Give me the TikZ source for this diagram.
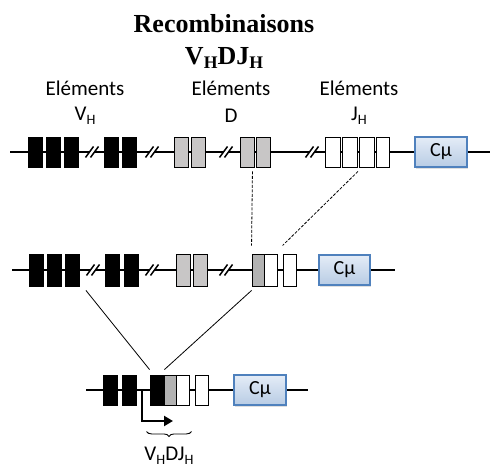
\documentclass[tikz,border=0pt]{standalone}
\usepackage{fontspec}
\setmainfont{Liberation Serif}
\newfontfamily\calib{Carlito}
\usetikzlibrary{calc,arrows.meta,shadows,decorations.pathreplacing}

\definecolor{dseg}{RGB}{200,198,198}
\definecolor{djseg}{RGB}{178,178,178}
\definecolor{cmuline}{RGB}{79,129,189}
\definecolor{cmutop}{RGB}{228,236,247}
\definecolor{cmubot}{RGB}{184,204,228}

\newcommand{\lowsub}[1]{\raisebox{-0.35ex}{\scalebox{0.68}{#1}}}

\tikzset{
  seg/.style={draw=black, line width=0.9bp, inner sep=0pt, minimum width=14bp, minimum height=30bp},
  vseg/.style={seg, fill=black},
  dseg/.style={seg, fill=dseg},
  djseg/.style={seg, fill=djseg, minimum width=12bp},
  jseg/.style={seg, fill=white, minimum width=15bp},
  cmu/.style={draw=cmuline, line width=1.2bp, top color=cmutop, bottom color=cmubot,
    minimum width=52bp, minimum height=30bp, inner sep=0pt,
    drop shadow={opacity=0.25, shadow xshift=1bp, shadow yshift=-2bp},
    font=\calib\fontsize{20bp}{24bp}\selectfont},
  dna/.style={line width=1.7bp},
  lab/.style={font=\calib\fontsize{21bp}{25bp}\selectfont, inner sep=0pt},
  dashlink/.style={dashed, line width=0.8bp, dash pattern=on 3bp off 1.5bp},
  link/.style={line width=0.8bp},
  linecut/.pic={
    \fill[white] (-6.5,5) -- (1.5,-5) -- (6.5,-5) -- (-1.5,5) -- cycle;
    \draw[line width=1.5bp] (-6.5,5.5) -- (1.5,-5.5) (-1.5,5.5) -- (6.5,-5.5);
  }
}

\begin{document}
\begin{tikzpicture}[x=1bp, y=-1bp]
\useasboundingbox (0,0) rectangle (490,467);

% titre
\node[font=\bfseries\fontsize{26bp}{30bp}\selectfont, inner sep=0pt] (titre) at (224,24) {Recombinaisons};
\node[font=\bfseries\fontsize{26bp}{30bp}\selectfont, inner sep=0pt] (titrevdj) at (224,58) {V\lowsub{H}DJ\lowsub{H}};

\node[lab] (elv) at (85,88) {Eléments};
\node[lab] (elvh) at (85,116) {V\lowsub{H}};
\node[lab] (eld) at (231,88) {Eléments};
\node[lab] (eldd) at (231,116) {D};
\node[lab] (elj) at (359,88) {Eléments};
\node[lab] (eljh) at (359,116) {J\lowsub{H}};

% ligne germinale
\coordinate (a0) at (10,152);
\coordinate (a1) at (490,152);
\draw[dna] (a0) -- (a1);
\pic at (92,152) {linecut};
\pic at (152,152) {linecut};
\pic at (226,152) {linecut};
\pic at (312,152) {linecut};
\node[vseg] (va1) at (35,152) {};
\node[vseg] (va2) at (53,152) {};
\node[vseg] (va3) at (71,152) {};
\node[vseg] (va4) at (111,152) {};
\node[vseg] (va5) at (129,152) {};
\node[dseg] (da1) at (181.5,152) {};
\node[dseg] (da2) at (198.5,152) {};
\node[dseg] (da3) at (247,152) {};
\node[dseg] (da4) at (263.5,152) {};
\node[jseg] (ja1) at (332.5,152) {};
\node[jseg] (ja2) at (350,152) {};
\node[jseg] (ja3) at (367,152) {};
\node[jseg, minimum width=13bp] (ja4) at (383,152) {};
\node[cmu] (cma) at (441,152) {Cµ};

% DJ
\coordinate (b0) at (12,270);
\coordinate (b1) at (395,270);
\draw[dna] (b0) -- (b1);
\pic at (93,270) {linecut};
\pic at (152,270) {linecut};
\pic at (226,270) {linecut};
\node[vseg, minimum height=32bp] (vb1) at (36.5,270) {};
\node[vseg, minimum height=32bp] (vb2) at (54.5,270) {};
\node[vseg, minimum height=32bp] (vb3) at (72.5,270) {};
\node[vseg, minimum height=32bp] (vb4) at (112.5,270) {};
\node[vseg, minimum height=32bp] (vb5) at (131,270) {};
\node[dseg, minimum height=32bp] (db1) at (183.5,270) {};
\node[dseg, minimum height=32bp] (db2) at (200.5,270) {};
\node[djseg, minimum height=32bp] (dj) at (258,270) {};
\node[jseg, minimum height=32bp, minimum width=13bp] (jb1) at (270.5,270) {};
\node[jseg, minimum height=32bp, minimum width=13bp] (jb2) at (289.5,270) {};
\node[cmu, minimum width=51bp] (cmb) at (344.5,270) {Cµ};

% VDJ
\coordinate (c0) at (86,390);
\coordinate (c1) at (308,390);
\draw[dna] (c0) -- (c1);
\node[vseg] (vc1) at (110,390) {};
\node[vseg] (vc2) at (129,390) {};
\node[vseg] (vdj) at (157,390) {};
\node[djseg] (dc) at (170,390) {};
\node[jseg, minimum width=13bp] (jc1) at (182.5,390) {};
\node[jseg, minimum width=13bp] (jc2) at (201.5,390) {};
\node[cmu] (cmc) at (260,390) {Cµ};

% liaisons
\draw[dashlink] ($(da3.south east)+(-2,4)$) -- ($(dj.north west)+(0,-8)$);
\draw[dashlink] ($(ja2.south east)+(0,4)$) -- ($(jb2.north west)+(0,-8)$);
\draw[link] ($(vb3.south east)+(6,4)$) -- ($(vdj.north west)+(0,-5)$);
\draw[link] ($(dj.south west)+(0,4)$) -- ($(vdj.north east)+(0,-5)$);

% transcription
\coordinate (tss) at (142,390);
\draw[line width=2.2bp, -{Triangle[length=9bp, width=10bp]}] (tss) |- ($(tss)+(31,31)$);
\draw[line width=0.9bp, decorate, decoration={brace, mirror, amplitude=5bp}]
  ($(vdj.south west)+(-3,26)$) -- ($(jc1.south east)+(2,26)$);
\node[lab] (vdjlab) at (169,456) {V\lowsub{H}DJ\lowsub{H}};
\end{tikzpicture}
\end{document}
